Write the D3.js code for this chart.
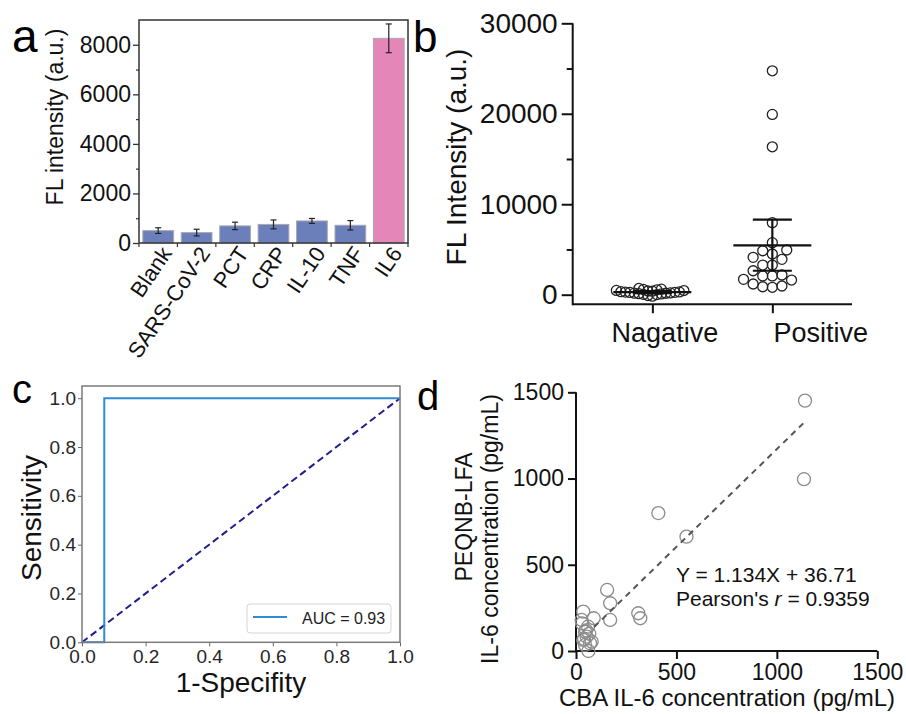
<!DOCTYPE html>
<html>
<head>
<meta charset="utf-8">
<script src="https://cdn.jsdelivr.net/npm/d3@7"></script>
<style>
body { margin: 0; background: #fff; }
svg { display: block; font-family: "Liberation Sans", Arial, sans-serif; }
</style>
</head>
<body>
<script>
// ---- panel a: selectivity bars
var catsA = ['Blank', 'SARS-CoV-2', 'PCT', 'CRP', 'IL-10', 'TNF', 'IL6'];
var valsA = [500, 420, 690, 750, 890, 715, 8260];
var errA = [115, 135, 150, 180, 100, 190, 580];
var ticksA = [0, 2000, 4000, 6000, 8000];

// ---- panel b: negative / positive samples
var groupsB = ['Nagative', 'Positive'];
var negB = [690, 610, 580, 540, 470, 460, 410, 390, 330, 310, 290, 260, 250, 200, 170, 160, 110, 90, 40, 10, -90, -160];
var posB = [24750, 19930, 16350, 7960, 5750, 4940, 4860, 4500, 4130, 3910, 3280, 3280, 2650, 2180, 2070, 2070, 1700, 1620, 1180, 960, 880, 820];
var meanB = [280, 5460];
var lowB = [170, 2650];
var highB = [390, 8290];
var ticksB = [0, 10000, 20000, 30000];

// ---- panel c: ROC curve
var fprC = [0, 0.07, 0.07, 1];
var tprC = [0, 0, 1, 1];
var aucC = 0.93;
var ticksC = [0, 0.2, 0.4, 0.6, 0.8, 1.0];

// ---- panel d: correlation
var cbaD = [1140, 1135, 410, 550, 155, 170, 170, 310, 320, 36, 28, 88, 60, 45, 53, 36, 70, 62, 45, 78, 30, 66, 50, 40];
var lfaD = [1452, 996, 800, 663, 354, 277, 180, 219, 190, 228, 180, 190, 141, 112, 83, 64, 45, 0, 35, 54, 160, 100, 120, 70];
var slopeD = 1.134, interceptD = 36.71, fitRangeD = [90, 1140];
var ticksD = [0, 500, 1000, 1500];

var svg = d3.select('body').append('svg')
    .attr('width', 906)
    .attr('height', 714);
svg.append('rect').attr('width', 906).attr('height', 714).attr('fill', '#fff');

var plain = d3.format('d');

function styleAxis(g, size, color) {
    g.attr('font-family', null).attr('font-size', size).attr('color', color || '#111');
    g.select('.domain').remove();
    return g;
}

function panelLabel(t, x, y, size) {
    svg.append('text').attr('x', x).attr('y', y).attr('font-size', size).text(t);
}

// ================= panel a
var xA = d3.scaleBand().domain(catsA).range([139, 408]).paddingInner(0.2).paddingOuter(0.1);
var yA = d3.scaleLinear().domain([0, 9000]).range([243, 20]);
var gA = svg.append('g');

gA.selectAll('.bar')
    .data(catsA)
    .enter()
    .append('rect')
    .attr('x', function (d) { return xA(d); })
    .attr('y', function (d, i) { return yA(valsA[i]); })
    .attr('width', xA.bandwidth())
    .attr('height', function (d, i) { return yA(0) - yA(valsA[i]); })
    .attr('fill', function (d) { return d === 'IL6' ? '#e586b9' : '#6b7fba'; })
    .attr('stroke', '#a8a8b0')
    .attr('stroke-width', 1);

var errG = gA.selectAll('.err').data(catsA).enter().append('g');
errG.append('line')
    .attr('x1', function (d) { return xA(d) + xA.bandwidth() / 2; })
    .attr('x2', function (d) { return xA(d) + xA.bandwidth() / 2; })
    .attr('y1', function (d, i) { return yA(valsA[i] - errA[i]); })
    .attr('y2', function (d, i) { return yA(valsA[i] + errA[i]); });
[-1, 1].forEach(function (s) {
    errG.append('line')
        .attr('x1', function (d) { return xA(d) + xA.bandwidth() / 2 - 3; })
        .attr('x2', function (d) { return xA(d) + xA.bandwidth() / 2 + 3; })
        .attr('y1', function (d, i) { return yA(valsA[i] + s * errA[i]); })
        .attr('y2', function (d, i) { return yA(valsA[i] + s * errA[i]); });
});
errG.selectAll('line').attr('stroke', '#222').attr('stroke-width', 1.2);

gA.append('rect')
    .attr('x', 139).attr('y', 20).attr('width', 269).attr('height', 223)
    .attr('fill', 'none').attr('stroke', '#333').attr('stroke-width', 1.5);

var yAxA = gA.append('g').attr('transform', 'translate(139,0)')
    .call(d3.axisLeft(yA).tickValues(ticksA).tickFormat(plain).tickSize(6).tickPadding(2));
styleAxis(yAxA, 23);
yAxA.selectAll('line').attr('stroke', '#333').attr('stroke-width', 1.3);
var yMinA = gA.append('g').attr('transform', 'translate(139,0)')
    .call(d3.axisLeft(yA).tickValues([1000, 3000, 5000, 7000]).tickSize(3).tickFormat(''));
styleAxis(yMinA, 10);
yMinA.selectAll('line').attr('stroke', '#333').attr('stroke-width', 1.2);

var edgesA = catsA.map(function (d) { return xA(d) - xA.step() * xA.paddingInner() / 2; });
edgesA.push(xA(catsA[catsA.length - 1]) + xA.bandwidth() + xA.step() * xA.paddingInner() / 2);
gA.selectAll('.edge').data(edgesA).enter().append('line')
    .attr('x1', function (d) { return d; }).attr('x2', function (d) { return d; })
    .attr('y1', 243).attr('y2', 247)
    .attr('stroke', '#333').attr('stroke-width', 1.2);

gA.selectAll('.cat').data(catsA).enter().append('text')
    .attr('transform', function (d) {
        return 'translate(' + (xA(d) + xA.bandwidth() / 2 + 8) + ',249) rotate(-56)';
    })
    .attr('text-anchor', 'end')
    .attr('dy', '0.35em')
    .attr('font-size', 22)
    .attr('fill', '#111')
    .text(function (d) { return d; });

gA.append('text')
    .attr('transform', 'translate(63,117) rotate(-90)')
    .attr('text-anchor', 'middle')
    .attr('font-size', 23)
    .attr('fill', '#111')
    .text('FL intensity (a.u.)');

panelLabel('a', 12, 52, 46);

// ================= panel b
var yB = d3.scaleLinear().domain([0, 30000]).range([294.7, 23.3]);
var xB = d3.scalePoint().domain(groupsB).range([572.7, 852]).padding(0.664);
var baseB = yB(0) + 9.5;
var gB = svg.append('g');

// simple dodge: each circle takes the nearest free horizontal slot
function swarm(values, cx, yScale, minDist, step) {
    var placed = [];
    values.slice().sort(function (a, b) { return a - b; }).forEach(function (v) {
        var y = yScale(v);
        for (var k = 0; k < 60; k++) {
            var off = (k % 2 === 0 ? 1 : -1) * Math.ceil(k / 2) * step;
            var ok = placed.every(function (p) {
                var dx = p.x - (cx + off), dy = p.y - y;
                return dx * dx + dy * dy >= minDist * minDist;
            });
            if (ok) { placed.push({ x: cx + off, y: y }); break; }
        }
    });
    return placed;
}

var ptsB = swarm(negB, xB('Nagative'), yB, 4.5, 4.5)
    .concat(swarm(posB, xB('Positive'), yB, 9.6, 4.8));

gB.selectAll('circle').data(ptsB).enter().append('circle')
    .attr('cx', function (d) { return d.x; })
    .attr('cy', function (d) { return d.y; })
    .attr('r', 5)
    .attr('fill', 'none')
    .attr('stroke', '#222')
    .attr('stroke-width', 1.3);

groupsB.forEach(function (g, i) {
    var cx = xB(g);
    gB.append('line').attr('x1', cx - 39).attr('x2', cx + 39)
        .attr('y1', yB(meanB[i])).attr('y2', yB(meanB[i]));
    gB.append('line').attr('x1', cx).attr('x2', cx)
        .attr('y1', yB(lowB[i])).attr('y2', yB(highB[i]));
    [lowB[i], highB[i]].forEach(function (v) {
        gB.append('line').attr('x1', cx - 19.5).attr('x2', cx + 19.5)
            .attr('y1', yB(v)).attr('y2', yB(v));
    });
});
gB.selectAll('line').attr('stroke', '#111').attr('stroke-width', 2.2);

gB.append('line').attr('x1', 572.7).attr('x2', 572.7).attr('y1', yB(30000)).attr('y2', baseB + 1)
    .attr('stroke', '#111').attr('stroke-width', 2);
gB.append('line').attr('x1', 572.7).attr('x2', 852).attr('y1', baseB).attr('y2', baseB)
    .attr('stroke', '#111').attr('stroke-width', 2);

var yAxB = gB.append('g').attr('transform', 'translate(572.7,0)')
    .call(d3.axisLeft(yB).tickValues(ticksB).tickFormat(plain).tickSize(11).tickPadding(4));
styleAxis(yAxB, 28);
yAxB.selectAll('line').attr('stroke', '#111').attr('stroke-width', 2);
var yMinB = gB.append('g').attr('transform', 'translate(572.7,0)')
    .call(d3.axisLeft(yB).tickValues([5000, 15000, 25000]).tickSize(6).tickFormat(''));
styleAxis(yMinB, 10);
yMinB.selectAll('line').attr('stroke', '#111').attr('stroke-width', 2);

var xAxB = gB.append('g').attr('transform', 'translate(0,' + baseB + ')')
    .call(d3.axisBottom(xB).tickSize(9).tickPadding(10));
styleAxis(xAxB, 27);
xAxB.selectAll('line').attr('stroke', '#111').attr('stroke-width', 2);
var labelShiftB = { 'Nagative': 12, 'Positive': 48 };
xAxB.selectAll('text').attr('dx', function (d) { return labelShiftB[d]; });

gB.append('text')
    .attr('transform', 'translate(466,157) rotate(-90)')
    .attr('text-anchor', 'middle')
    .attr('font-size', 28)
    .attr('fill', '#111')
    .text('FL Intensity (a.u.)');

panelLabel('b', 413, 52, 44);

// ================= panel c
var xC = d3.scaleLinear().domain([0, 1]).range([82, 400]);
var yC = d3.scaleLinear().domain([0, 1.05]).range([642.3, 386]);
var gC = svg.append('g');

var xAxC = gC.append('g').attr('transform', 'translate(0,642.3)')
    .call(d3.axisBottom(xC).tickValues(ticksC).tickFormat(d3.format('.1f')).tickSize(4).tickPadding(3));
styleAxis(xAxC, 19, '#262626');
var yAxC = gC.append('g').attr('transform', 'translate(82,0)')
    .call(d3.axisLeft(yC).tickValues(ticksC).tickFormat(d3.format('.1f')).tickSize(4).tickPadding(2));
styleAxis(yAxC, 19, '#262626');
gC.selectAll('.tick line').attr('stroke', '#666');

gC.append('line')
    .attr('x1', xC(0)).attr('y1', yC(0)).attr('x2', xC(1)).attr('y2', yC(1))
    .attr('stroke', '#1e1e8e').attr('stroke-width', 2).attr('stroke-dasharray', '7,4');

var rocLine = d3.line()
    .x(function (d) { return xC(d[0]); })
    .y(function (d) { return yC(d[1]); });
gC.append('path')
    .datum(fprC.map(function (f, i) { return [f, tprC[i]]; }))
    .attr('d', rocLine)
    .attr('fill', 'none')
    .attr('stroke', '#2f8bd2')
    .attr('stroke-width', 2);

gC.append('rect')
    .attr('x', 82).attr('y', 386).attr('width', 318).attr('height', 256.3)
    .attr('fill', 'none').attr('stroke', '#7a7a7a').attr('stroke-width', 1.5);

gC.append('rect')
    .attr('x', 247).attr('y', 604).attr('width', 144).attr('height', 29).attr('rx', 3)
    .attr('fill', '#fff').attr('fill-opacity', 0.85).attr('stroke', '#d6d6d6');
gC.append('line').attr('x1', 253).attr('x2', 287).attr('y1', 617).attr('y2', 617)
    .attr('stroke', '#2f8bd2').attr('stroke-width', 2);
gC.append('text').attr('x', 302).attr('y', 623.5).attr('font-size', 16).attr('fill', '#222')
    .text('AUC = ' + aucC.toFixed(2));

gC.append('text')
    .attr('x', 241).attr('y', 692)
    .attr('text-anchor', 'middle')
    .attr('font-size', 28)
    .attr('fill', '#111')
    .text('1-Specifity');
gC.append('text')
    .attr('transform', 'translate(41,518) rotate(-90)')
    .attr('text-anchor', 'middle')
    .attr('font-size', 28)
    .attr('fill', '#111')
    .text('Sensitivity');

panelLabel('c', 12, 403, 40);

// ================= panel d
var xD = d3.scaleLinear().domain([0, 1500]).range([576, 877.3]);
var yD = d3.scaleLinear().domain([0, 1500]).range([651, 392.3]);
var gD = svg.append('g');

var xAxD = gD.append('g').attr('transform', 'translate(0,651)')
    .call(d3.axisBottom(xD).tickValues(ticksD).tickFormat(plain).tickSize(8).tickPadding(5));
styleAxis(xAxD, 23);
var yAxD = gD.append('g').attr('transform', 'translate(576,0)')
    .call(d3.axisLeft(yD).tickValues(ticksD).tickFormat(plain).tickSize(8).tickPadding(4));
styleAxis(yAxD, 23);
gD.selectAll('.tick line').attr('stroke', '#111').attr('stroke-width', 2);
gD.append('line').attr('x1', 576).attr('x2', 877.3).attr('y1', 651).attr('y2', 651)
    .attr('stroke', '#111').attr('stroke-width', 2);
gD.append('line').attr('x1', 576).attr('x2', 576).attr('y1', 392.3).attr('y2', 652)
    .attr('stroke', '#111').attr('stroke-width', 2);

gD.selectAll('circle').data(cbaD).enter().append('circle')
    .attr('cx', function (d) { return xD(d); })
    .attr('cy', function (d, i) { return yD(lfaD[i]); })
    .attr('r', 6.5)
    .attr('fill', 'none')
    .attr('stroke', '#8c8c8c')
    .attr('stroke-width', 1.3);

gD.append('line')
    .attr('x1', xD(fitRangeD[0])).attr('y1', yD(slopeD * fitRangeD[0] + interceptD))
    .attr('x2', xD(fitRangeD[1])).attr('y2', yD(slopeD * fitRangeD[1] + interceptD))
    .attr('stroke', '#555').attr('stroke-width', 2).attr('stroke-dasharray', '6,5');

gD.append('text').attr('x', 676).attr('y', 582).attr('font-size', 21).attr('fill', '#111')
    .text('Y = ' + slopeD + 'X + ' + interceptD);
var pr = gD.append('text').attr('x', 676).attr('y', 606).attr('font-size', 21).attr('fill', '#111');
pr.append('tspan').text("Pearson's ");
pr.append('tspan').attr('font-style', 'italic').text('r');
pr.append('tspan').text(' = 0.9359');

gD.append('text')
    .attr('x', 727).attr('y', 706)
    .attr('text-anchor', 'middle')
    .attr('font-size', 24)
    .attr('fill', '#111')
    .text('CBA IL-6 concentration (pg/mL)');
gD.append('text')
    .attr('transform', 'translate(472,517) rotate(-90)')
    .attr('text-anchor', 'middle')
    .attr('font-size', 23)
    .attr('fill', '#111')
    .text('PEQNB-LFA');
gD.append('text')
    .attr('transform', 'translate(498,529) rotate(-90)')
    .attr('text-anchor', 'middle')
    .attr('font-size', 23)
    .attr('fill', '#111')
    .text('IL-6 concentration (pg/mL)');

panelLabel('d', 417, 410, 40);
</script>
</body>
</html>
